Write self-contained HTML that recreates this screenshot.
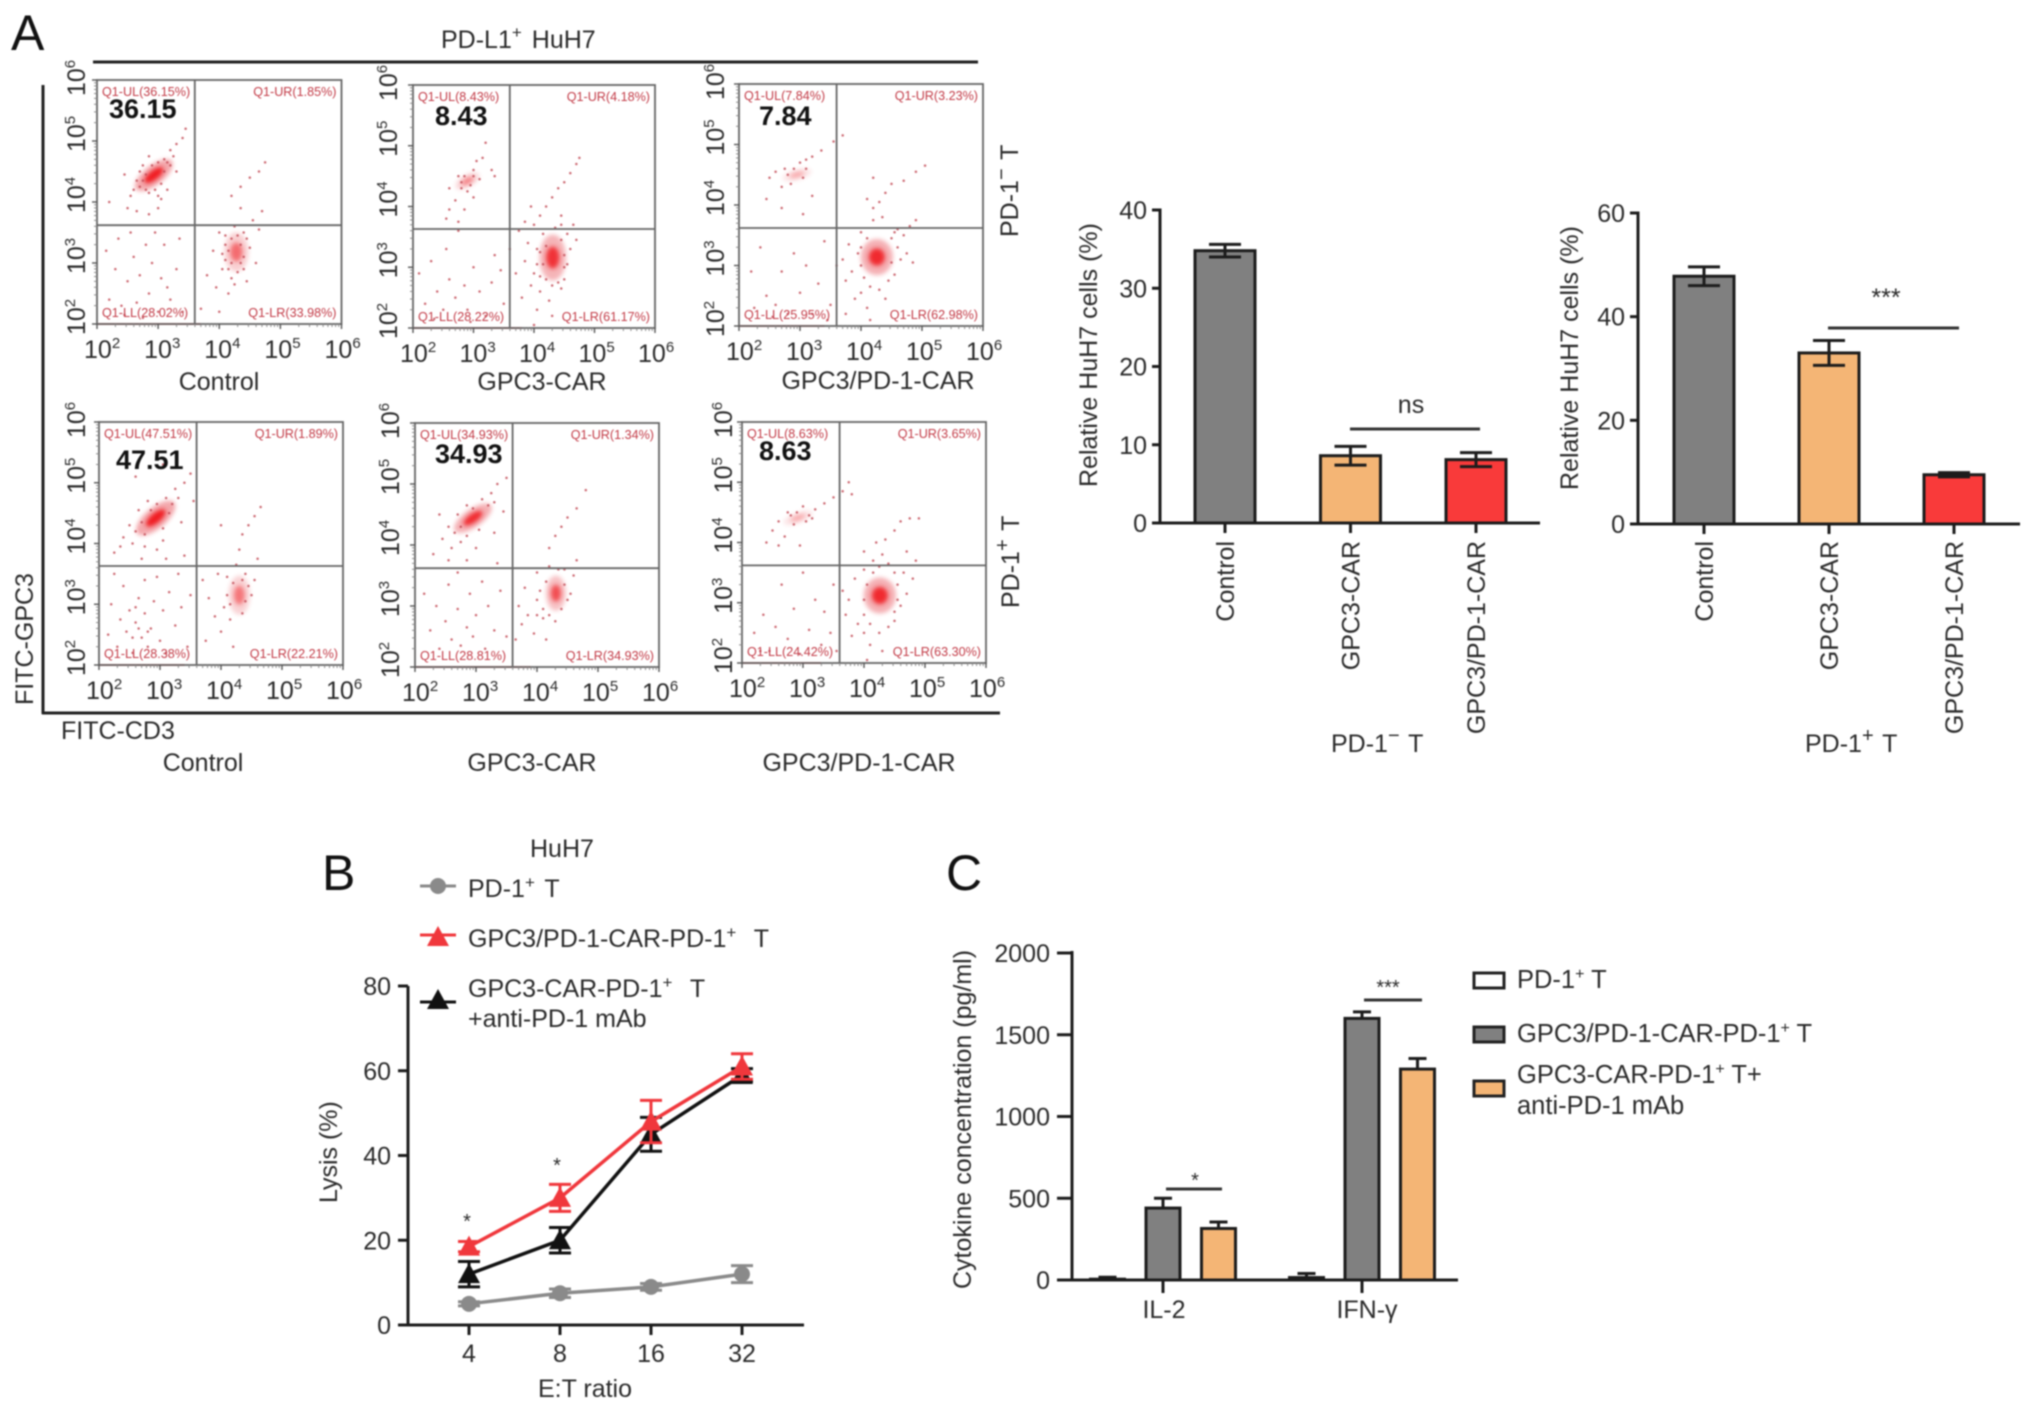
<!DOCTYPE html>
<html lang="en">
<head>
<meta charset="utf-8">
<title>CAR-T flow cytometry, lysis and cytokine figure</title>
<style>
html,body{margin:0;padding:0;background:#fff;}
#figure{display:block;width:2032px;height:1409px;filter:blur(0.75px);font-family:"Liberation Sans",sans-serif;fill:#2a2a2a;}
#figure text{font-size:25px;}
.panel-letter{font-size:50px !important;fill:#111;}
.big{font-size:27px !important;font-weight:bold;fill:#111;}
</style>
</head>
<body>
<svg id="figure" xmlns="http://www.w3.org/2000/svg" width="2032" height="1409" viewBox="0 0 2032 1409">
<rect x="0" y="0" width="2032" height="1409" fill="#fff"/>
<g>
<text class="panel-letter" x="11" y="50">A</text>
<text x="441" y="48">PD-L1<tspan dy="-10" font-size="17">+</tspan><tspan dy="10" dx="3"> HuH7</tspan></text>
<line x1="93" y1="62" x2="978" y2="62" stroke="#222" stroke-width="3"/>
<line x1="43" y1="85" x2="43" y2="714" stroke="#222" stroke-width="3"/>
<line x1="42" y1="713" x2="1000" y2="713" stroke="#222" stroke-width="3"/>
<text transform="translate(33 705) rotate(-90)">FITC-GPC3</text>
<text x="61" y="739">FITC-CD3</text>
<text x="203" y="771" text-anchor="middle">Control</text>
<text x="532" y="771" text-anchor="middle">GPC3-CAR</text>
<text x="859" y="771" text-anchor="middle">GPC3/PD-1-CAR</text>
<text x="219" y="390" text-anchor="middle">Control</text>
<text x="542" y="390" text-anchor="middle">GPC3-CAR</text>
<text x="878" y="389" text-anchor="middle">GPC3/PD-1-CAR</text>
<text transform="translate(1018 237) rotate(-90)">PD-1<tspan dy="-10" font-size="20">−</tspan><tspan dy="10" dx="2"> T</tspan></text>
<text transform="translate(1019 608) rotate(-90)">PD-1<tspan dy="-10" font-size="20">+</tspan><tspan dy="10" dx="2"> T</tspan></text>
<text x="1331" y="752">PD-1<tspan dy="-10" font-size="20">−</tspan><tspan dy="10" dx="2"> T</tspan></text>
<text x="1805" y="752">PD-1<tspan dy="-10" font-size="20">+</tspan><tspan dy="10" dx="2"> T</tspan></text>
<text transform="translate(1097 487) rotate(-90)">Relative HuH7 cells (%)</text>
<text transform="translate(1578 490) rotate(-90)">Relative HuH7 cells (%)</text>
<text x="1411" y="413" text-anchor="middle">ns</text>
<line x1="1350" y1="429" x2="1480" y2="429" stroke="#333" stroke-width="3"/>
<text x="1886" y="306" text-anchor="middle">***</text>
<line x1="1828" y1="328" x2="1959" y2="328" stroke="#333" stroke-width="3"/>
</g>
<g>
<text class="panel-letter" x="322" y="890">B</text>
<text x="530" y="857">HuH7</text>
<text x="468" y="897">PD-1<tspan dy="-9" font-size="17">+</tspan><tspan dy="9" dx="3"> T</tspan></text>
<text x="468" y="947">GPC3/PD-1-CAR-PD-1<tspan dy="-9" font-size="17">+</tspan><tspan dy="9" dx="11"> T</tspan></text>
<text x="468" y="997">GPC3-CAR-PD-1<tspan dy="-9" font-size="17">+</tspan><tspan dy="9" dx="11"> T</tspan></text>
<text x="468" y="1027">+anti-PD-1 mAb</text>
<text transform="translate(337 1203) rotate(-90)">Lysis (%)</text>
<text x="585" y="1397" text-anchor="middle">E:T ratio</text>
<text x="467" y="1228" text-anchor="middle" style="font-size:20px">*</text>
<text x="557" y="1172" text-anchor="middle" style="font-size:20px">*</text>
</g>
<g>
<text class="panel-letter" x="946" y="890">C</text>
<text transform="translate(971 1289) rotate(-90)" style="font-size:25px">Cytokine concentration (pg/ml)</text>
<text x="1195" y="1187" text-anchor="middle" style="font-size:20px">*</text>
<line x1="1166" y1="1189" x2="1222" y2="1189" stroke="#333" stroke-width="3"/>
<text x="1388" y="994" text-anchor="middle" style="font-size:20px">***</text>
<line x1="1364" y1="1000" x2="1422" y2="1000" stroke="#333" stroke-width="3"/>
<rect x="1474" y="973" width="30" height="15" fill="#fff" stroke="#222" stroke-width="3"/>
<rect x="1474" y="1027" width="30" height="15" fill="#808080" stroke="#222" stroke-width="3"/>
<rect x="1474" y="1081" width="30" height="15" fill="#f4b575" stroke="#222" stroke-width="3"/>
<text x="1517" y="988" style="font-size:25.5px">PD-1<tspan dy="-9" font-size="16">+</tspan><tspan dy="9"> T</tspan></text>
<text x="1517" y="1042" style="font-size:25.5px">GPC3/PD-1-CAR-PD-1<tspan dy="-9" font-size="16">+</tspan><tspan dy="9"> T</tspan></text>
<text x="1517" y="1083" style="font-size:25.5px">GPC3-CAR-PD-1<tspan dy="-9" font-size="16">+</tspan><tspan dy="9"> T+</tspan></text>
<text x="1517" y="1114" style="font-size:25.5px">anti-PD-1 mAb</text>
</g>
</svg>
<script>
// ---------- flow cytometry data (log10 units) ----------
const logTicks = [2, 3, 4, 5, 6];
const panelNames = ['control-pd1-neg', 'gpc3-car-pd1-neg', 'gpc3-pd1-car-pd1-neg', 'control-pd1-pos', 'gpc3-car-pd1-pos', 'gpc3-pd1-car-pd1-pos'];
const bigValues = ['36.15', '8.43', '7.84', '47.51', '34.93', '8.63'];
const ulLabels = ['Q1-UL(36.15%)', 'Q1-UL(8.43%)', 'Q1-UL(7.84%)', 'Q1-UL(47.51%)', 'Q1-UL(34.93%)', 'Q1-UL(8.63%)'];
const urLabels = ['Q1-UR(1.85%)', 'Q1-UR(4.18%)', 'Q1-UR(3.23%)', 'Q1-UR(1.89%)', 'Q1-UR(1.34%)', 'Q1-UR(3.65%)'];
const llLabels = ['Q1-LL(28.02%)', 'Q1-LL(28.22%)', 'Q1-LL(25.95%)', 'Q1-LL(28.38%)', 'Q1-LL(28.81%)', 'Q1-LL(24.42%)'];
const lrLabels = ['Q1-LR(33.98%)', 'Q1-LR(61.17%)', 'Q1-LR(62.98%)', 'Q1-LR(22.21%)', 'Q1-LR(34.93%)', 'Q1-LR(63.30%)'];
const gateX = [3.6, 3.6, 3.6, 3.6, 3.6, 3.6];
const gateY = [3.62, 3.63, 3.62, 3.63, 3.62, 3.62];
const p1Events = [[2.6,4.2],[2.7,4.5],[2.55,4.1],[2.8,4.2],[2.75,4.6],[2.85,4.75],[3.1,4.7],[3.2,4.85],[3.3,4.95],[3.4,5.05],[3.45,5.2],[3.15,4.2],[3.05,4.05],[2.5,3.9],[2.65,3.85],[2.85,3.8],[3,3.9],[2.2,4],[2.45,4.45],[3.3,4.5],[2.2,2.4],[2.3,2.9],[2.4,2.3],[2.5,2.7],[2.6,3.1],[2.65,2.35],[2.7,2.8],[2.8,3.3],[2.85,2.5],[2.9,3],[3,2.2],[3.05,2.75],[3.1,3.3],[3.2,2.4],[3.3,2.9],[3.4,2.2],[2.15,3.2],[2.35,3.4],[2.55,3.5],[2.75,2.1],[2.95,3.5],[3.15,2.6],[2.45,2.15],[3.35,3.4],[3.8,2.8],[3.9,3.2],[3.95,2.6],[4,3.5],[4.05,2.9],[4.1,3.3],[4.15,2.5],[4.2,2.75],[4.25,3.6],[4.3,2.85],[4.4,3.5],[4.45,2.7],[4.5,3.25],[4.55,3.7],[4.6,3],[4.65,3.55],[4.7,3.85],[3.7,2.25],[4,2.2],[4.35,3.9],[4.2,4.1],[4.35,4.25],[4.5,4.4],[4.65,4.5],[4.75,4.65],[2.7,4.25],[2.75,4.35],[2.8,4.45],[2.85,4.15],[2.9,4.6],[2.95,4.2],[3,4.65],[3.05,4.3],[3.1,4.5],[3.15,4.65],[3.2,4.6],[2.65,4.35],[3.25,4.75],[3,4.1],[4.1,3.05],[4.15,3.2],[4.15,2.9],[4.2,3.4],[4.2,3],[4.3,3.45],[4.35,3],[4.35,3.3],[4.4,3.1],[4.45,3.4],[4.25,2.65],[4.05,3.15],[4.4,2.9],[4.1,3.45]];
const p2Events = [[2.6,4.3],[2.7,4.1],[2.75,4.5],[2.8,4.3],[3,4.6],[3.05,4.75],[3.15,4.8],[3.2,5.05],[3.35,4.5],[2.55,3.8],[2.75,3.75],[2.6,3.95],[3,4.15],[2.85,3.95],[3.3,4.6],[2.1,2.9],[2.2,2.4],[2.3,3.1],[2.4,2.6],[2.5,2.3],[2.55,3.3],[2.6,2.8],[2.7,2.5],[2.75,3.6],[2.85,2.7],[2.9,2.3],[3,3],[3.1,2.6],[3.2,2.2],[3.3,2.75],[3.35,3.2],[3.45,2.95],[2.35,2.15],[2.95,2.1],[3.5,2.4],[3.6,3.3],[3.7,2.9],[3.75,3.6],[3.8,2.5],[3.85,3.1],[3.9,3.4],[3.95,2.7],[4,2.9],[4,3.7],[4.05,2.3],[4.05,3.3],[4.1,2.6],[4.15,3.55],[4.2,2.8],[4.25,2.45],[4.3,2.7],[4.45,2.65],[4.5,3],[4.55,3.55],[4.6,3.3],[4.65,3.7],[4.7,3.45],[4.3,2.2],[4,2.05],[3.85,3.75],[4.1,3.85],[4.2,4],[4.3,4.15],[4.4,4.3],[4.5,4.4],[4.6,4.55],[4.7,4.7],[4.75,4.8],[4.45,3.85],[3.95,4],[2.8,4.4],[2.85,4.5],[2.95,4.35],[3,4.5],[3.1,4.45],[2.9,4.25],[4.05,3.05],[4.1,3.25],[4.1,2.85],[4.15,3.05],[4.2,3.35],[4.45,3.45],[4.5,3.2],[4.5,2.8],[4.55,3.05],[4.4,2.75],[4.35,3.65],[4.45,3.7]];
const p3Events = [[2.5,4.45],[2.6,4.55],[2.7,4.3],[2.75,4.6],[2.85,4.35],[3,4.7],[3.1,4.75],[3.2,4.8],[3.35,4.9],[3.55,5.05],[3.7,5.15],[2.45,4.1],[2.7,3.95],[3.05,3.85],[3.2,4.15],[2.2,2.9],[2.35,3.3],[2.45,2.5],[2.6,2.35],[2.7,2.9],[2.8,2.2],[2.9,3.2],[3,2.55],[3.1,3],[3.2,2.2],[3.3,2.7],[3.4,3.4],[3.5,2.35],[2.25,2.3],[2.55,2.15],[3.45,2.1],[3.6,3],[3.7,3.1],[3.75,2.75],[3.8,3.35],[3.85,2.9],[3.9,2.45],[3.95,3.2],[4,2.55],[4,3.55],[4.1,2.3],[4.15,2.65],[4.2,3.75],[4.3,2.6],[4.4,2.45],[4.55,2.85],[4.6,3.3],[4.7,3.5],[4.75,3.2],[4.8,3.65],[4.85,3.05],[4.9,3.75],[4.15,2.1],[3.75,2.2],[4.1,4.1],[4.2,3.95],[4.3,4.05],[4.4,4.2],[4.5,4.35],[4.7,4.4],[4.9,4.55],[5.05,4.65],[4.2,4.45],[4.35,3.8],[2.8,4.5],[2.9,4.6],[3.05,4.45],[3.1,4.6],[4,3],[4,3.3],[4.05,2.8],[4.1,3.45],[4.5,3.45],[4.5,3.05],[4.55,3.55],[4.45,2.75],[4.6,3.6],[4.65,3.1]];
const p4Events = [[2.4,4.1],[2.35,3.95],[2.5,4.3],[2.55,4],[2.65,4.55],[2.75,3.95],[2.8,4.7],[2.95,3.9],[3.05,4.05],[3.1,4.75],[3.25,4.9],[3.4,5],[3.5,5.15],[3.55,4.7],[3.35,4.35],[2.25,3.85],[2.7,3.75],[3.1,3.75],[3.4,3.8],[2.6,5.1],[3.05,5.3],[2.15,2.5],[2.2,3],[2.3,2.3],[2.35,2.75],[2.4,3.3],[2.45,2.55],[2.5,2.9],[2.55,2.2],[2.6,2.7],[2.65,3.1],[2.7,2.45],[2.75,2.85],[2.75,3.4],[2.8,2.3],[2.85,2.6],[2.9,3.05],[2.95,3.45],[3,2.4],[3.05,2.9],[3.1,2.2],[3.15,3.2],[3.25,2.65],[3.3,3.5],[3.35,2.95],[3.45,2.3],[3.5,3.15],[2.25,3.5],[3.7,3.4],[3.75,2.4],[3.8,3.1],[3.9,2.8],[3.95,3.5],[4,2.55],[4.05,2.95],[4.1,3.45],[4.15,2.75],[4.2,2.3],[4.25,3.65],[4.35,2.85],[4.4,3.5],[4.5,3.15],[4.55,3.4],[4.6,3.75],[4.3,3.9],[4.35,4.15],[4.45,4.3],[4.55,4.45],[4.65,4.6],[4,4.3],[2.6,4.2],[2.7,4.35],[2.75,4.15],[2.85,4.55],[2.95,4.65],[3.05,4.25],[3.15,4.5],[3.2,4.65],[3.3,4.75],[4.1,3.15],[4.15,3],[4.2,3.35],[4.4,3.05],[4.45,3.3],[4.35,3.4],[2.55,2.45],[2.65,2.6],[2.8,2.55],[2.6,2.95]];
const p5Events = [[2.45,4.1],[2.55,4.3],[2.6,3.95],[2.7,4.5],[2.75,4.05],[2.85,4.65],[3,3.95],[3.1,4.75],[3.25,4.85],[3.35,5],[3.5,5.1],[3.45,4.55],[3.3,4.2],[2.3,3.85],[2.55,3.75],[2.4,4.5],[2.85,3.75],[3.35,3.7],[2.15,3.2],[2.25,2.6],[2.35,3],[2.4,2.3],[2.5,2.75],[2.55,3.35],[2.6,2.45],[2.7,2.95],[2.75,2.35],[2.85,2.65],[2.9,3.2],[2.95,2.5],[3,2.85],[3.1,3.4],[3.15,2.3],[3.2,3],[3.3,2.6],[3.4,3.25],[3.5,2.5],[2.7,3.55],[3.65,2.45],[3.7,3],[3.75,2.7],[3.8,3.3],[3.85,2.85],[3.95,2.55],[4,3.1],[4,3.55],[4.1,2.8],[4.15,2.45],[4.2,3.65],[4.3,2.75],[4.45,3.6],[4.55,3.2],[4.6,3.5],[4.65,3.75],[4.2,3.95],[4.3,4.15],[4.4,4.3],[4.5,4.45],[4.65,4.6],[4.8,4.9],[2.65,4.2],[2.75,4.3],[2.85,4.15],[2.95,4.6],[3.05,4.25],[3.2,4.65],[3.3,4.7],[4.05,3.25],[4.1,2.95],[4.15,3.4],[4.2,2.85],[4.45,3.35],[4.4,2.95],[4.5,3.1],[4.35,3.6],[4,2.85]];
const p6Events = [[2.5,4.2],[2.6,4.35],[2.7,4.1],[2.75,4.5],[2.85,4.3],[3,4.6],[3.1,4.45],[3.2,4.55],[3.35,4.65],[3.5,4.75],[3.65,4.85],[3.75,5],[3.8,4.8],[2.4,4],[2.6,3.95],[2.95,3.95],[2.2,2.5],[2.35,2.8],[2.45,2.2],[2.55,2.6],[2.65,3.3],[2.75,2.4],[2.85,2.9],[2.95,2.15],[3,3.5],[3.1,2.55],[3.2,3.05],[3.3,2.3],[3.35,2.85],[3.45,2.5],[3.5,3.3],[2.3,2.2],[3.55,2.2],[3.65,3.2],[3.7,2.8],[3.75,3.05],[3.8,2.45],[3.85,3.4],[3.9,2.65],[4,2.5],[4,3.55],[4.1,2.3],[4.15,3.7],[4.25,2.5],[4.4,2.6],[4.5,2.85],[4.55,3.3],[4.65,3.5],[4.7,3.15],[4.8,3.4],[4.85,3.7],[4.05,2.05],[4.3,2.2],[4,3.85],[4.2,4],[4.35,4.05],[4.5,4.2],[4.6,4.35],[4.75,4.4],[4.9,4.4],[4.3,3.8],[4.7,3.85],[2.8,4.45],[2.9,4.5],[3.05,4.35],[3.15,4.4],[4,3.05],[4,2.8],[4.05,3.3],[4.1,2.65],[4.15,3.5],[4.5,3.5],[4.55,3.05],[4.5,2.7],[4.6,2.95],[4.4,3.65],[4.25,3.6]];
const panelEvents = [p1Events, p2Events, p3Events, p4Events, p5Events, p6Events];
// density cores: centre x, centre y, half-width, half-height (log units), tilt degrees, density 0-1
const p1Cores = [[2.93,4.44,0.34,0.14,-38,1],[4.28,3.18,0.18,0.28,0,0.55]];
const p2Cores = [[2.9,4.42,0.2,0.09,-30,0.45],[4.31,3.16,0.2,0.33,0,0.85]];
const p3Cores = [[2.95,4.5,0.22,0.08,-15,0.3],[4.26,3.14,0.24,0.26,0,0.9]];
const p4Cores = [[2.93,4.42,0.36,0.15,-40,1],[4.3,3.15,0.16,0.28,0,0.5]];
const p5Cores = [[2.95,4.44,0.33,0.13,-35,0.9],[4.31,3.21,0.15,0.25,0,0.7]];
const p6Cores = [[2.92,4.41,0.23,0.08,-20,0.3],[4.26,3.12,0.24,0.26,0,0.9]];
const panelCores = [p1Cores, p2Cores, p3Cores, p4Cores, p5Cores, p6Cores];
const panelAxisPile = [3.7, 3.8, 3.4, 3.4, 3.9, 3.3];

// ---------- bar charts ----------
const barCategories = ['Control', 'GPC3-CAR', 'GPC3/PD-1-CAR'];
const barColors = ['#808080', '#f4b575', '#f93a3a'];
const pd1NegValues = [34.8, 8.6, 8.1];
const pd1NegErrors = [0.8, 1.2, 0.9];
const pd1NegTicks = [0, 10, 20, 30, 40];
const pd1PosValues = [47.8, 33, 9.5];
const pd1PosErrors = [1.8, 2.4, 0.4];
const pd1PosTicks = [0, 20, 40, 60];

// ---------- lysis line chart ----------
const ratioLabels = ['4', '8', '16', '32'];
const lysisTicks = [0, 20, 40, 60, 80];
const pd1TLysis = [5, 7.5, 9, 12];
const pd1TErrors = [0.5, 1, 0.8, 2];
const dualCarLysis = [18.5, 30, 48, 61];
const dualCarErrors = [1.2, 3.2, 5, 3];
const carMabLysis = [12, 20, 45, 59];
const carMabErrors = [3, 3, 4, 1.5];

// ---------- cytokine chart ----------
const cytokineLabels = ['IL-2', 'IFN-γ'];
const cytokineTicks = [0, 500, 1000, 1500, 2000];
const cytokinePd1T = [5, 15];
const cytokinePd1TErrors = [12, 25];
const cytokineDual = [440, 1600];
const cytokineDualErrors = [60, 40];
const cytokineMab = [315, 1290];
const cytokineMabErrors = [40, 65];

const NS = 'http://www.w3.org/2000/svg';
const figure = document.getElementById('figure');
function add(parent, tag, attrs, name, content) {
  const el = document.createElementNS(NS, tag);
  for (const k in attrs) el.setAttribute(k, attrs[k]);
  
  
  if (content !== undefined) el.textContent = content;
  parent.appendChild(el);
  return el;
}
function power(parent, attrs, name, exponent) {
  const t = add(parent, 'text', attrs, name, '10');
  add(t, 'tspan', {dy: -10, 'font-size': 15}, name + '-exponent', String(exponent));
  return t;
}

// ---------- blur filter for density cores ----------
const defs = add(figure, 'defs', {}, 'filter-defs');
const soft = add(defs, 'filter', {id: 'soft', x: '-50%', y: '-50%', width: '200%', height: '200%'}, 'soft-filter');
add(soft, 'feGaussianBlur', {stdDeviation: 2.2}, 'soft-blur');

// ---------- flow panels ----------
const frames = [
  {l: 97, r: 341.5, t: 80, b: 324, bigX: 109, bigY: 118, yOff: 12},
  {l: 413, r: 655, t: 85, b: 328, bigX: 435, bigY: 125, yOff: 16},
  {l: 739, r: 983, t: 84, b: 326, bigX: 759, bigY: 125, yOff: 15},
  {l: 99, r: 343, t: 422, b: 665, bigX: 116, bigY: 469, yOff: 14},
  {l: 415, r: 659, t: 423, b: 667, bigX: 435, bigY: 463, yOff: 16},
  {l: 742, r: 986, t: 422, b: 663, bigX: 759, bigY: 460, yOff: 10}
];
frames.forEach(function (f, i) {
  const pn = panelNames[i];
  const g = add(figure, 'g', {}, 'flow-panel-' + pn);
  const sx = function (v) { return f.l + (v - 2) / 4 * (f.r - f.l); };
  const sy = function (v) { return f.b - (v - 2) / 4 * (f.b - f.t); };
  add(g, 'line', {x1: sx(2), y1: f.b, x2: sx(panelAxisPile[i]), y2: f.b, stroke: '#e04048', 'stroke-width': 2}, 'axis-pile-' + pn);
  panelCores[i].forEach(function (c) {
    const cx = sx(c[0]), cy = sy(c[1]);
    const rx = c[2] * (f.r - f.l) / 4, ry = c[3] * (f.b - f.t) / 4;
    const rot = 'rotate(' + c[4] + ' ' + cx + ' ' + cy + ')';
    add(g, 'ellipse', {cx: cx, cy: cy, rx: rx * 1.1, ry: ry * 1.15, fill: '#e85058', opacity: 0.5 * c[5], transform: rot, filter: 'url(#soft)'}, 'density-halo');
    add(g, 'ellipse', {cx: cx, cy: cy, rx: rx * 0.55, ry: ry * 0.55, fill: '#f01c24', opacity: c[5], transform: rot, filter: 'url(#soft)'}, 'density-core');
  });
  panelEvents[i].forEach(function (e) {
    add(g, 'circle', {cx: sx(e[0]), cy: sy(e[1]), r: 1.25, fill: '#c4505a', opacity: 0.85}, 'event-point');
  });
  add(g, 'rect', {x: f.l, y: f.t, width: f.r - f.l, height: f.b - f.t, fill: 'none', stroke: '#666', 'stroke-width': 1.8}, 'plot-frame');
  add(g, 'line', {x1: sx(gateX[i]), y1: f.t, x2: sx(gateX[i]), y2: f.b, stroke: '#666', 'stroke-width': 1.8}, 'vertical-gate');
  add(g, 'line', {x1: f.l, y1: sy(gateY[i]), x2: f.r, y2: sy(gateY[i]), stroke: '#666', 'stroke-width': 1.8}, 'horizontal-gate');
  logTicks.forEach(function (d, k) {
    add(g, 'line', {x1: f.l - 5, y1: sy(d), x2: f.l, y2: sy(d), stroke: '#555', 'stroke-width': 1.4}, 'y-major-tick');
    add(g, 'line', {x1: sx(d), y1: f.b, x2: sx(d), y2: f.b + 5, stroke: '#555', 'stroke-width': 1.4}, 'x-major-tick');
    if (k < logTicks.length - 1) {
      for (let m = 2; m < 10; m++) {
        const off = Math.log10(m);
        add(g, 'line', {x1: f.l - 3, y1: sy(d + off), x2: f.l, y2: sy(d + off), stroke: '#888', 'stroke-width': 1}, 'y-minor-tick');
        add(g, 'line', {x1: sx(d + off), y1: f.b, x2: sx(d + off), y2: f.b + 3, stroke: '#888', 'stroke-width': 1}, 'x-minor-tick');
      }
    }
    power(g, {x: sx(d) - 13 - k, y: f.b + 34}, 'x-tick-label', d);
    power(g, {transform: 'translate(' + (f.l - f.yOff) + ' ' + (sy(d) + 11 + (k === 4 ? 5 : 0)) + ') rotate(-90)'}, 'y-tick-label', d);
  });
  const q = 'font-size:12.6px;fill:#c23a46';
  add(g, 'text', {x: f.l + 5, y: f.t + 16, style: q}, 'quadrant-label-ul', ulLabels[i]);
  add(g, 'text', {x: f.r - 5, y: f.t + 16, 'text-anchor': 'end', style: q}, 'quadrant-label-ur', urLabels[i]);
  add(g, 'text', {x: f.l + 5, y: f.b - 7, style: q}, 'quadrant-label-ll', llLabels[i]);
  add(g, 'text', {x: f.r - 5, y: f.b - 7, 'text-anchor': 'end', style: q}, 'quadrant-label-lr', lrLabels[i]);
  add(g, 'text', {x: f.bigX, y: f.bigY, class: 'big'}, 'ul-percentage', bigValues[i]);
});

// ---------- bar charts ----------
function drawBars(cfg) {
  const g = add(figure, 'g', {}, cfg.name);
  const y = function (v) { return cfg.y0 - v / cfg.max * (cfg.y0 - cfg.yTop); };
  const x = function (i) { return cfg.first + cfg.step * i; };
  barCategories.forEach(function (c, i) {
    const cx = x(i), top = y(cfg.values[i]);
    add(g, 'rect', {x: cx - 30, y: top, width: 60, height: cfg.y0 - top, fill: barColors[i], stroke: '#1c1c1c', 'stroke-width': 3}, 'bar-' + c.toLowerCase().replace('/', '-'));
    const hi = y(cfg.values[i] + cfg.errors[i]), lo = y(cfg.values[i] - cfg.errors[i]);
    add(g, 'line', {x1: cx, y1: hi, x2: cx, y2: lo, stroke: '#1c1c1c', 'stroke-width': 3}, 'error-bar');
    add(g, 'line', {x1: cx - 16, y1: hi, x2: cx + 16, y2: hi, stroke: '#1c1c1c', 'stroke-width': 3}, 'error-cap-upper');
    add(g, 'line', {x1: cx - 16, y1: lo, x2: cx + 16, y2: lo, stroke: '#1c1c1c', 'stroke-width': 3}, 'error-cap-lower');
    add(g, 'line', {x1: cx, y1: cfg.y0, x2: cx, y2: cfg.y0 + 10, stroke: '#1c1c1c', 'stroke-width': 3}, 'x-tick');
    add(g, 'text', {transform: 'translate(' + (cx + 9) + ' 541) rotate(-90)', 'text-anchor': 'end'}, 'x-tick-label', c);
  });
  add(g, 'line', {x1: cfg.axisX, y1: cfg.yTop - 1.5, x2: cfg.axisX, y2: cfg.y0 + 1.5, stroke: '#1c1c1c', 'stroke-width': 3}, 'y-axis-line');
  add(g, 'line', {x1: cfg.axisX - 8, y1: cfg.y0, x2: cfg.axisEnd, y2: cfg.y0, stroke: '#1c1c1c', 'stroke-width': 3}, 'x-axis-line');
  cfg.ticks.forEach(function (t) {
    add(g, 'line', {x1: cfg.axisX - 8, y1: y(t), x2: cfg.axisX, y2: y(t), stroke: '#1c1c1c', 'stroke-width': 3}, 'y-tick');
    add(g, 'text', {x: cfg.axisX - 13, y: y(t) + 9, 'text-anchor': 'end'}, 'y-tick-label', String(t));
  });
}
drawBars({name: 'bar-chart-pd1-negative', values: pd1NegValues, errors: pd1NegErrors, ticks: pd1NegTicks, max: 40, y0: 523, yTop: 210, first: 1225, step: 125.5, axisX: 1160, axisEnd: 1540});
drawBars({name: 'bar-chart-pd1-positive', values: pd1PosValues, errors: pd1PosErrors, ticks: pd1PosTicks, max: 60, y0: 524, yTop: 213, first: 1704, step: 125, axisX: 1638, axisEnd: 2020});

// ---------- lysis chart ----------
const lysisG = add(figure, 'g', {}, 'lysis-chart');
const lx = function (i) { return 469 + 91 * i; };
const ly = function (v) { return 1325 - v / 80 * 339; };
add(lysisG, 'line', {x1: 408, y1: 986, x2: 408, y2: 1326, stroke: '#1c1c1c', 'stroke-width': 3}, 'y-axis-line');
add(lysisG, 'line', {x1: 398, y1: 1325, x2: 804, y2: 1325, stroke: '#1c1c1c', 'stroke-width': 3}, 'x-axis-line');
lysisTicks.forEach(function (t) {
  add(lysisG, 'line', {x1: 398, y1: ly(t), x2: 408, y2: ly(t), stroke: '#1c1c1c', 'stroke-width': 3}, 'y-tick');
  add(lysisG, 'text', {x: 391, y: ly(t) + 9, 'text-anchor': 'end'}, 'y-tick-label', String(t));
});
ratioLabels.forEach(function (r, i) {
  add(lysisG, 'line', {x1: lx(i), y1: 1325, x2: lx(i), y2: 1335, stroke: '#1c1c1c', 'stroke-width': 3}, 'x-tick');
  add(lysisG, 'text', {x: lx(i), y: 1362, 'text-anchor': 'middle'}, 'x-tick-label', r);
});
function marker(parent, type, cx, cy, color, name) {
  if (type === 'circle') {
    add(parent, 'circle', {cx: cx, cy: cy, r: 8, fill: color}, name);
  } else {
    add(parent, 'polygon', {points: (cx - 11) + ',' + (cy + 9) + ' ' + (cx + 11) + ',' + (cy + 9) + ' ' + cx + ',' + (cy - 11), fill: color}, name);
  }
}
function series(values, errors, color, type, name) {
  const g = add(lysisG, 'g', {}, 'series-' + name);
  add(g, 'polyline', {points: values.map(function (v, i) { return lx(i) + ',' + ly(v); }).join(' '), fill: 'none', stroke: color, 'stroke-width': 3.5}, 'line-' + name);
  values.forEach(function (v, i) {
    const hi = ly(v + errors[i]), lo = ly(v - errors[i]);
    add(g, 'line', {x1: lx(i), y1: hi, x2: lx(i), y2: lo, stroke: color, 'stroke-width': 3}, 'error-bar');
    add(g, 'line', {x1: lx(i) - 11, y1: hi, x2: lx(i) + 11, y2: hi, stroke: color, 'stroke-width': 3}, 'error-cap-upper');
    add(g, 'line', {x1: lx(i) - 11, y1: lo, x2: lx(i) + 11, y2: lo, stroke: color, 'stroke-width': 3}, 'error-cap-lower');
    marker(g, type, lx(i), ly(v), color, 'point-' + name);
  });
}
series(pd1TLysis, pd1TErrors, '#8a8a8a', 'circle', 'pd1-t');
series(carMabLysis, carMabErrors, '#111', 'tri', 'gpc3-car-mab');
series(dualCarLysis, dualCarErrors, '#f0373c', 'tri', 'gpc3-pd1-car');
const lysisLegend = add(lysisG, 'g', {}, 'lysis-legend-symbols');
add(lysisLegend, 'line', {x1: 420, y1: 886, x2: 456, y2: 886, stroke: '#8a8a8a', 'stroke-width': 3}, 'legend-line-pd1-t');
marker(lysisLegend, 'circle', 438, 886, '#8a8a8a', 'legend-marker-pd1-t');
add(lysisLegend, 'line', {x1: 420, y1: 935, x2: 456, y2: 935, stroke: '#f0373c', 'stroke-width': 3}, 'legend-line-gpc3-pd1-car');
marker(lysisLegend, 'tri', 438, 937, '#f0373c', 'legend-marker-gpc3-pd1-car');
add(lysisLegend, 'line', {x1: 420, y1: 1002, x2: 456, y2: 1002, stroke: '#111', 'stroke-width': 3}, 'legend-line-gpc3-car-mab');
marker(lysisLegend, 'tri', 438, 1000, '#111', 'legend-marker-gpc3-car-mab');

// ---------- cytokine chart ----------
const cytG = add(figure, 'g', {}, 'cytokine-chart');
const cy = function (v) { return 1280 - v / 2000 * 327; };
const groupX = function (g) { return 1163 + 199 * g; };
const seriesOffset = function (s) { return (s - 1) * 55.5; };
const cytokineSeries = [
  {name: 'pd1-t', vals: cytokinePd1T, errs: cytokinePd1TErrors, fill: '#fff'},
  {name: 'gpc3-pd1-car', vals: cytokineDual, errs: cytokineDualErrors, fill: '#808080'},
  {name: 'gpc3-car-mab', vals: cytokineMab, errs: cytokineMabErrors, fill: '#f4b575'}
];
cytokineSeries.forEach(function (s, si) {
  s.vals.forEach(function (v, gi) {
    const cx = groupX(gi) + seriesOffset(si);
    const top = cy(v), hi = cy(v + s.errs[gi]);
    add(cytG, 'line', {x1: cx, y1: top, x2: cx, y2: hi, stroke: '#1c1c1c', 'stroke-width': 3}, 'error-bar');
    add(cytG, 'line', {x1: cx - 9, y1: hi, x2: cx + 9, y2: hi, stroke: '#1c1c1c', 'stroke-width': 3}, 'error-cap');
    add(cytG, 'rect', {x: cx - 17, y: top, width: 34, height: 1280 - top, fill: s.fill, stroke: '#1c1c1c', 'stroke-width': 3}, 'bar-' + s.name);
  });
});
add(cytG, 'line', {x1: 1072, y1: 951, x2: 1072, y2: 1281, stroke: '#1c1c1c', 'stroke-width': 3}, 'y-axis-line');
add(cytG, 'line', {x1: 1057, y1: 1280, x2: 1458, y2: 1280, stroke: '#1c1c1c', 'stroke-width': 3}, 'x-axis-line');
cytokineTicks.forEach(function (t) {
  add(cytG, 'line', {x1: 1057, y1: cy(t), x2: 1072, y2: cy(t), stroke: '#1c1c1c', 'stroke-width': 3}, 'y-tick');
  add(cytG, 'text', {x: 1050, y: cy(t) + 9, 'text-anchor': 'end'}, 'y-tick-label', String(t));
});
cytokineLabels.forEach(function (c, i) {
  add(cytG, 'line', {x1: groupX(i), y1: 1280, x2: groupX(i), y2: 1293, stroke: '#1c1c1c', 'stroke-width': 3}, 'x-tick');
  add(cytG, 'text', {x: groupX(i) + (i ? 5 : 1), y: 1318, 'text-anchor': 'middle'}, 'x-tick-label', c);
});
</script>
</body>
</html>
